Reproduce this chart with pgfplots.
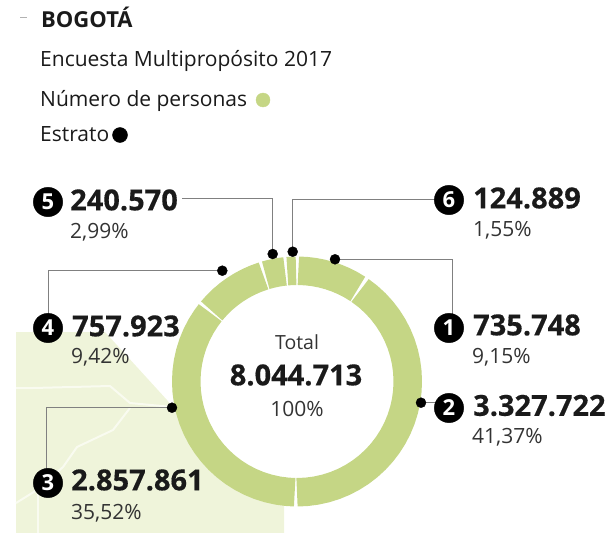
\documentclass[border=0pt]{standalone}
\usepackage{pgfplots}
\pgfplotsset{compat=1.18}
\usepackage{fontspec}
\setmainfont{Open Sans}
\definecolor{ring}{HTML}{C5D685}
\definecolor{mapc}{HTML}{EFF4DA}
\definecolor{lead}{HTML}{808080}
\definecolor{txt}{HTML}{1A1A1A}
\definecolor{pct}{HTML}{333333}
\pgfplotsset{
  pix/.style={at={(0pt,0pt)},anchor=south west,scale only axis,width=608pt,height=533pt,hide axis,
    xmin=0,xmax=608,ymin=0,ymax=533,y dir=reverse,clip=true},
  cen/.style={at={(0pt,0pt)},anchor=south west,scale only axis,width=608pt,height=533pt,hide axis,
    xmin=-297,xmax=311,ymin=-151.5,ymax=381.5,clip=true},
  seg/.style={data cs=polar,no markers,ring,line width=28.5pt,line cap=butt,line join=round,forget plot},
}
\newcommand\lab[4]{\node[anchor=west,inner sep=0pt,text=#4] at (axis cs:#1,#2) {#3};}
\newcommand\clab[4]{\node[anchor=center,inner sep=0pt,text=#4] at (axis cs:#1,#2) {#3};}
\newcommand\bignum{\fontsize{29}{30}\bfseries\addfontfeature{FakeBold=0.4}}
\newcommand\smnum{\fontsize{21}{22}\selectfont}
\begin{document}
\begin{tikzpicture}
\useasboundingbox (0pt,0pt) rectangle (608pt,533pt);
% map
\begin{axis}[pix]
\addplot[fill=mapc,draw=none] coordinates {(16,332)(105,332)(167,400)(178,415)(225,470)(284,495)(284,533)(16,533)} -- cycle;
\addplot[color=white!60!mapc,line width=2pt,no markers] coordinates {(16,388)(33,388)(110,386)(130,403)(172,407)};
\addplot[color=white!60!mapc,line width=2pt,no markers] coordinates {(130,408)(113,430)(77,447)(63,467)(37,490)(16,503)};
\addplot[color=white!60!mapc,line width=1.6pt,no markers] coordinates {(38,490)(38,533)};
\end{axis}
% ring
\begin{axis}[cen]
\addplot[seg] coordinates {(89.3,110.75)(85,110.75)(81,110.75)(77,110.75)(73,110.75)(69,110.75)(65,110.75)(61,110.75)(56.7,110.75)};
\addplot[seg] coordinates {(55.3,110.75)(50,110.75)(45,110.75)(40,110.75)(35,110.75)(30,110.75)(25,110.75)(20,110.75)(15,110.75)(10,110.75)(5,110.75)(0,110.75)(-5,110.75)(-10,110.75)(-15,110.75)(-20,110.75)(-25,110.75)(-30,110.75)(-35,110.75)(-40,110.75)(-45,110.75)(-50,110.75)(-55,110.75)(-60,110.75)(-65,110.75)(-70,110.75)(-75,110.75)(-80,110.75)(-85,110.75)(-90,110.75)};
\addplot[seg] coordinates {(-91.2,110.75)(-95,110.75)(-100,110.75)(-105,110.75)(-110,110.75)(-115,110.75)(-120,110.75)(-125,110.75)(-130,110.75)(-135,110.75)(-140,110.75)(-145,110.75)(-150,110.75)(-155,110.75)(-160,110.75)(-165,110.75)(-170,110.75)(-175,110.75)(-180,110.75)(-185,110.75)(-190,110.75)(-195,110.75)(-200,110.75)(-205,110.75)(-210,110.75)(-215,110.75)(-218.4,110.75)};
\addplot[seg] coordinates {(140.4,110.75)(136,110.75)(132,110.75)(128,110.75)(124,110.75)(120,110.75)(116,110.75)(112,110.75)(107.6,110.75)};
\addplot[seg] coordinates {(106.4,110.75)(104,110.75)(101,110.75)(98,110.75)(96.2,110.75)};
\addplot[seg] coordinates {(95,110.75)(92.5,110.75)(90.5,110.75)};
\end{axis}
% annotations
\begin{axis}[pix,clip=false]
\addplot[gray!60,line width=0.6pt,no markers] coordinates {(20,17)(27,17)};
\addplot[lead,line width=1.2pt,no markers] coordinates {(182,198.3)(272.5,198.3)(272.5,254)};
\addplot[lead,line width=1.2pt,no markers] coordinates {(292.7,252)(292.7,199.3)(440,199.3)};
\addplot[lead,line width=1.2pt,no markers] coordinates {(335,259.3)(452.7,259.3)(452.7,318)};
\addplot[lead,line width=1.2pt,no markers] coordinates {(222.3,270.7)(48.3,270.7)(48.3,318)};
\addplot[lead,line width=1.2pt,no markers] coordinates {(172,407.7)(46.7,407.7)(46.7,472)};
\addplot[lead,line width=1.2pt,no markers] coordinates {(421,402.7)(440,402.7)};
\addplot[only marks,mark=*,mark size=5pt,color=black,mark options={fill=black}] coordinates {(272.7,254)(292.7,251.7)(335,259.3)(222.3,270.7)(172,407.7)(421,402.7)};
\addplot[only marks,mark=*,mark size=14.7pt,color=black,mark options={fill=black}] coordinates {(48,202)(449,200)(449,328)(449,408)(48,483)(48,328)};
\addplot[only marks,mark=*,mark size=7pt,color=ring,mark options={fill=ring}] coordinates {(263,100)};
\addplot[only marks,mark=*,mark size=7.5pt,color=black,mark options={fill=black}] coordinates {(120,135)};
\end{axis}
% text
\begin{axis}[pix,clip=false]
\addplot[draw=none,no markers] coordinates {(0,0)};
\lab{41}{17.5}{\fontsize{22}{24}\bfseries BOGOTÁ}{txt}
\lab{40}{61}{\fontsize{21}{24}\selectfont Encuesta Multipropósito 2017}{txt}
\lab{40}{101}{\fontsize{21}{24}\selectfont Número de personas}{txt}
\lab{40}{134.5}{\fontsize{21}{24}\selectfont Estrato}{txt}
\clab{48}{202}{\fontsize{22}{24}\bfseries 5}{white}
\clab{449}{200}{\fontsize{22}{24}\bfseries 6}{white}
\clab{449}{328}{\fontsize{22}{24}\bfseries 1}{white}
\clab{449}{408}{\fontsize{22}{24}\bfseries 2}{white}
\clab{48}{483}{\fontsize{22}{24}\bfseries 3}{white}
\clab{48}{328}{\fontsize{22}{24}\bfseries 4}{white}
\lab{70}{200}{\bignum 240.570}{txt}
\lab{70}{232}{\smnum 2,99\%}{pct}
\lab{473}{198}{\bignum 124.889}{txt}
\lab{473}{230}{\smnum 1,55\%}{pct}
\lab{473}{325}{\bignum 735.748}{txt}
\lab{472}{357}{\smnum 9,15\%}{pct}
\lab{473}{405.5}{\bignum 3.327.722}{txt}
\lab{472}{437}{\smnum 41,37\%}{pct}
\lab{72}{326}{\bignum 757.923}{txt}
\lab{71}{357}{\smnum 9,42\%}{pct}
\lab{71}{480}{\bignum 2.857.861}{txt}
\lab{71}{513}{\smnum 35,52\%}{pct}
\clab{297}{342}{\fontsize{19.5}{22}\selectfont Total}{pct}
\clab{296}{375}{\bignum 8.044.713}{txt}
\clab{297}{409}{\smnum 100\%}{pct}
\end{axis}
\end{tikzpicture}
\end{document}
